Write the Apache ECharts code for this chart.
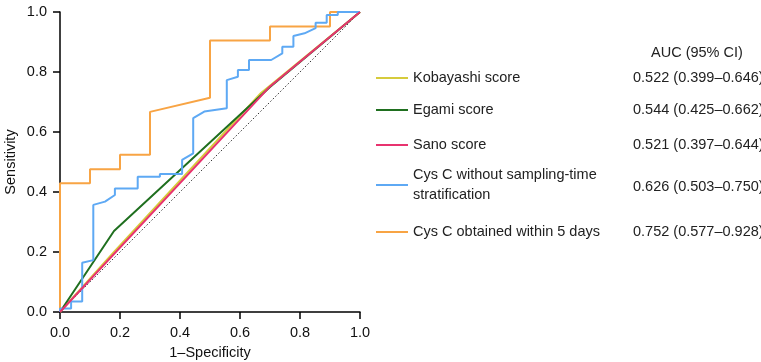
<!DOCTYPE html>
<html>
<head>
	<meta charset="utf-8"/>
	<title>ROC curves</title>
	<style>
		* {
			margin: 0;
			padding: 0;
		}
		html, body {
			width: 761px;
			height: 362px;
			background: #fff;
		}
		#main {
			width: 761px;
			height: 362px;
		}
	</style>
</head>
<body>

	<div id="main"></div>

	<script src="https://cdn.jsdelivr.net/npm/echarts@6/dist/echarts.min.js"></script>
	<script>
		var names = [
			'Kobayashi score',
			'Egami score',
			'Sano score',
			'Cys C without sampling-time\nstratification',
			'Cys C obtained within 5 days'
		];
		var aucText = [
			'0.522 (0.399–0.646)',
			'0.544 (0.425–0.662)',
			'0.521 (0.397–0.644)',
			'0.626 (0.503–0.750)',
			'0.752 (0.577–0.928)'
		];
		var colors = ['#d6cb3c', '#1f6f1f', '#e8336f', '#5ea9f4', '#f8a444'];

		// [1-specificity, sensitivity]
		var kobayashi = [[0, 0], [0.18, 0.2], [0.67, 0.73], [1, 1]];
		var egami = [[0, 0], [0.18, 0.27], [0.7, 0.75], [1, 1]];
		var sano = [[0, 0], [0.7, 0.752], [1, 1]];
		var cysAll = [
			[0, 0], [0, 0.012], [0.037, 0.012], [0.037, 0.035], [0.074, 0.035], [0.074, 0.164],
			[0.111, 0.173], [0.111, 0.357], [0.15, 0.368], [0.183, 0.39], [0.183, 0.412],
			[0.259, 0.412], [0.259, 0.451], [0.333, 0.451], [0.333, 0.46], [0.407, 0.46],
			[0.407, 0.507], [0.444, 0.529], [0.444, 0.646], [0.481, 0.668], [0.556, 0.679],
			[0.556, 0.773], [0.593, 0.784], [0.593, 0.807], [0.63, 0.807], [0.63, 0.84],
			[0.704, 0.84], [0.741, 0.862], [0.741, 0.884], [0.778, 0.884], [0.778, 0.92],
			[0.815, 0.929], [0.815, 0.934], [0.852, 0.946], [0.852, 0.964], [0.889, 0.964],
			[0.889, 0.99], [0.926, 0.99], [0.926, 1], [1, 1]
		];
		var cys5 = [
			[0, 0], [0, 0.429], [0.1, 0.429], [0.1, 0.476], [0.2, 0.476], [0.2, 0.524],
			[0.3, 0.524], [0.3, 0.667], [0.5, 0.714], [0.5, 0.905], [0.7, 0.905],
			[0.7, 0.952], [0.9, 0.952], [0.9, 1], [1, 1]
		];
		var reference = [[0, 0], [1, 1]];

		var font = 'Liberation Sans, Arial, sans-serif';
		var legendCenters = [78, 110, 145, 185, 232];

		var myChart = echarts.init(document.getElementById('main'));

		function curve(i, data, z) {
			return {
				name: names[i],
				type: 'line',
				data: data,
				showSymbol: false,
				symbol: 'none',
				z: z,
				color: colors[i],
				lineStyle: { color: colors[i], width: 2 },
				animation: false
			};
		}

		var axisCommon = {
			type: 'value',
			min: 0,
			max: 1,
			interval: 0.2,
			splitLine: { show: false },
			axisLine: { onZero: false, lineStyle: { color: '#000', width: 1.5 } },
			axisTick: { length: 7, lineStyle: { color: '#000', width: 1.5 } },
			axisLabel: {
				color: '#111',
				fontSize: 14.5,
				fontFamily: font,
				margin: 13,
				formatter: function (v) { return v.toFixed(1); }
			},
			nameTextStyle: { color: '#111', fontSize: 14.5, fontFamily: font },
			nameLocation: 'middle'
		};

		var option = {
			animation: false,
			grid: { left: 60, top: 12, width: 300, height: 300, outerBoundsMode: 'none', containLabel: false },
			xAxis: echarts.util.merge({ name: '1–Specificity', nameGap: 33 }, axisCommon),
			yAxis: echarts.util.merge({ name: 'Sensitivity', nameGap: 42 }, axisCommon),
			legend: names.map(function (n, i) {
				return {
					data: [n],
					orient: 'vertical',
					left: 371,
					top: legendCenters[i] - (i === 3 ? 20 : 10) - 5,
					icon: 'rect',
					itemWidth: 32,
					itemHeight: 2,
					selectedMode: false,
					textStyle: { color: '#222', fontSize: 14.5, fontFamily: font, lineHeight: 20 }
				};
			}),
			graphic: [{
				type: 'text',
				left: 651,
				top: 45,
				style: { text: 'AUC (95% CI)', fill: '#222', font: '14.5px ' + font }
			}].concat(aucText.map(function (t, i) {
				return {
					type: 'text',
					left: 633,
					top: legendCenters[i] + (i === 3 ? 2 : 0) - 8,
					style: { text: t, fill: '#222', font: '14.5px ' + font }
				};
			})),
			series: [
				{
					type: 'line',
					data: reference,
					symbol: 'none',
					z: 1,
					lineStyle: { color: '#333', width: 1, type: [1.5, 2] }
				},
				curve(0, kobayashi, 2),
				curve(1, egami, 3),
				curve(4, cys5, 4),
				curve(3, cysAll, 5),
				curve(2, sano, 6)
			]
		};

		myChart.setOption(option);
	</script>
</body>
</html>
